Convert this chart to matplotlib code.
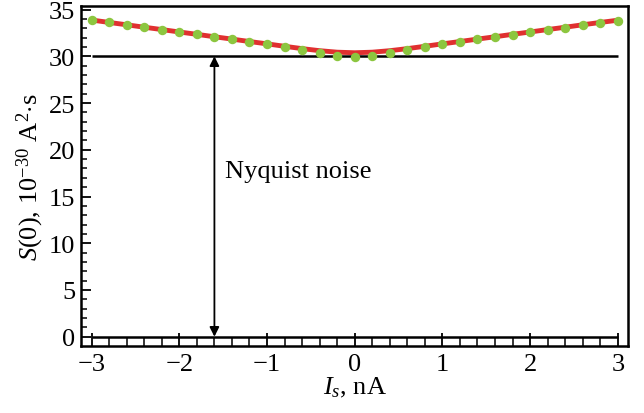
import matplotlib
matplotlib.use("Agg")
import matplotlib.pyplot as plt
from matplotlib.ticker import MultipleLocator

plt.rcParams['font.family'] = ['Liberation Serif', 'DejaVu Serif']
plt.rcParams['mathtext.fontset'] = 'custom'
plt.rcParams['mathtext.rm'] = 'Liberation Serif'
plt.rcParams['mathtext.it'] = 'Liberation Serif:italic'
plt.rcParams['mathtext.bf'] = 'Liberation Serif:bold'

# Data
current_nA = [-3.0, -2.8, -2.6, -2.4, -2.2, -2.0, -1.8, -1.6, -1.4, -1.2, -1.0,
              -0.8, -0.6, -0.4, -0.2, 0.0, 0.2, 0.4, 0.6, 0.8, 1.0,
              1.2, 1.4, 1.6, 1.8, 2.0, 2.2, 2.4, 2.6, 2.8, 3.0]
measured_S = [33.91, 33.63, 33.38, 33.10, 32.85, 32.60, 32.35, 32.10, 31.82, 31.56, 31.31,
              31.03, 30.70, 30.38, 30.06, 29.89, 30.00, 30.35, 30.67, 30.96, 31.28,
              31.53, 31.82, 32.06, 32.31, 32.56, 32.81, 33.06, 33.31, 33.56, 33.81]
fit_S = [33.88, 33.62, 33.37, 33.11, 32.86, 32.60, 32.35, 32.09, 31.84, 31.58, 31.33,
         31.07, 30.82, 30.60, 30.44, 30.38, 30.44, 30.60, 30.82, 31.07, 31.33,
         31.58, 31.84, 32.09, 32.35, 32.60, 32.86, 33.11, 33.37, 33.62, 33.86]
nyquist_level = 30.0
arrow_x = -1.6
label_text = "Nyquist noise"

fig = plt.figure(figsize=(6.44, 4.14), dpi=100)
ax = fig.add_axes([0.1253, 0.1626, 0.9756 - 0.1253, 0.9824 - 0.1626])

ax.hlines(nyquist_level, -3, 3, color='black', lw=1.8, zorder=2)
ax.hlines(0, -3, 3, color='black', lw=1.8, zorder=2)
ax.plot(current_nA, fit_S, color='#e03030', lw=3.5, zorder=3)
ax.plot(current_nA, measured_S, 'o', color='#8cc63f', ms=6.8, mec='none', zorder=4)

ax.annotate('', xy=(arrow_x, nyquist_level), xytext=(arrow_x, 0),
            arrowprops=dict(arrowstyle='<|-|>', color='black', lw=1.3,
                            mutation_scale=14, shrinkA=0, shrinkB=0))
ax.text(-1.48, 17.7, label_text, fontsize=19, va='center', ha='left')

ax.set_xlim(-3.125, 3.12)
ax.set_ylim(-0.96, 35.35)
ax.xaxis.set_major_locator(MultipleLocator(1))
ax.xaxis.set_minor_locator(MultipleLocator(0.2))
ax.yaxis.set_major_locator(MultipleLocator(5))
ax.yaxis.set_minor_locator(MultipleLocator(1))
ax.tick_params(axis='x', which='major', direction='in', length=9.5, width=1.3,
               labelsize=19, pad=5)
ax.tick_params(axis='x', which='minor', direction='in', length=6.5, width=1.1)
ax.tick_params(axis='y', which='major', direction='in', length=7.5, width=1.3,
               labelsize=19, pad=4)
ax.tick_params(axis='y', which='minor', direction='in', length=4, width=1.1)
for s in ax.spines.values():
    s.set_linewidth(1.8)

ax.set_xlabel(r'$I_s$, nA', fontsize=19, labelpad=0)
ax.set_ylabel(r'$S$(0), 10$^{-30}$ A$^2$$\cdot$s', fontsize=19, labelpad=2)

fig.savefig('out.png', dpi=100)
